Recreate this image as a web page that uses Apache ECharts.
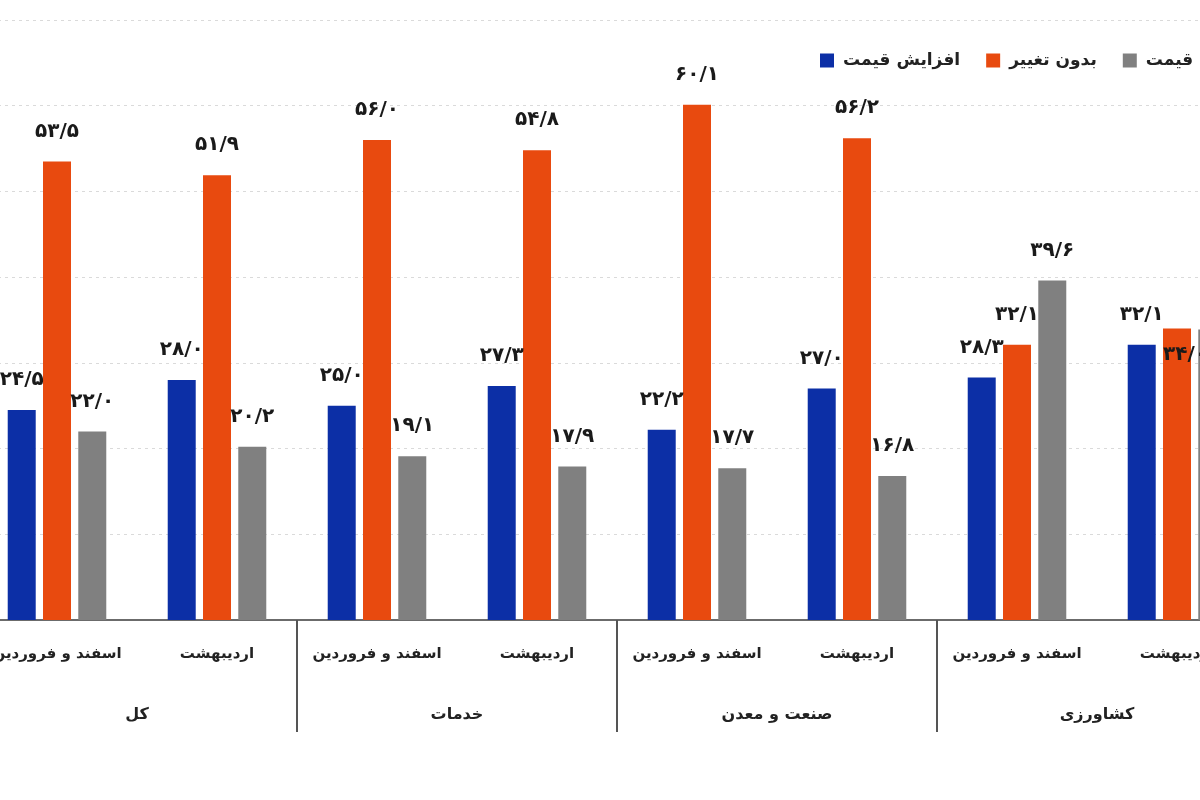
<!DOCTYPE html>
<html>
<head>
    <meta charset="utf-8">
    <title>تغییر قیمت</title>
    <script src="https://cdn.jsdelivr.net/npm/echarts@6/dist/echarts.min.js"></script>
    <style>
        html, body {
            margin: 0;
            padding: 0;
            background: #ffffff;
        }

        #chart {
            width: 1200px;
            height: 800px;
        }
    </style>
</head>
<body>
<div id="chart"></div>
<script>
// دسته‌ها
var months = ['اسفند و فروردین', 'اردیبهشت', 'اسفند و فروردین', 'اردیبهشت',
    'اسفند و فروردین', 'اردیبهشت', 'اسفند و فروردین', 'اردیبهشت'];
var sectors = ['کل', 'خدمات', 'صنعت و معدن', 'کشاورزی'];
var seriesNames = ['افزایش قیمت', 'بدون تغییر', 'کاهش قیمت'];

// مقادیر (درصد)
var increase = [24.5, 28.0, 25.0, 27.3, 22.2, 27.0, 28.3, 32.1];
var unchanged = [53.5, 51.9, 56.0, 54.8, 60.1, 56.2, 32.1, 34.0];
var decrease = [22.0, 20.2, 19.1, 17.9, 17.7, 16.8, 39.6, 33.9];

var faFont = 'DejaVu Sans';

function toFa(v) {
    return v.toFixed(1).replace('.', '/').replace(/\d/g, function (d) {
        return '۰۱۲۳۴۵۶۷۸۹'[d];
    });
}

var barLabel = {
    show: true,
    position: 'top',
    distance: 20,
    fontFamily: faFont,
    fontWeight: 'bold',
    fontSize: 20,
    color: '#1a1a1a',
    formatter: function (p) { return toFa(p.value); }
};

var last = increase.length - 1;

// the last orange label sits inside the bar in the original
var unchangedData = unchanged.map(function (v, i) {
    if (i === last) {
        return {value: v, label: {position: 'insideTop', distance: 16, offset: [8, 0]}};
    }
    return v;
});

// last grey label falls outside the picture
var decreaseData = decrease.map(function (v, i) {
    if (i === last) {
        return {value: v, label: {show: false}};
    }
    return v;
});

var chart = echarts.init(document.getElementById('chart'));

var option = {
    backgroundColor: '#ffffff',
    animation: false,
    color: ['#0c2fa6', '#e84a0f', '#808080'],
    legend: {
        data: seriesNames,
        left: 815,
        top: 47,
        width: 600,
        itemWidth: 14,
        itemHeight: 14,
        itemGap: 26,
        icon: 'rect',
        textStyle: {
            fontFamily: faFont,
            fontWeight: 'bold',
            fontSize: 17,
            color: '#222',
            padding: [0, 0, 0, 4]
        }
    },
    grid: {
        left: -23,
        right: -57,
        top: 20,
        bottom: 180,
        containLabel: false,
        outerBoundsMode: 'none'
    },
    xAxis: [
        {
            type: 'category',
            data: months,
            axisLine: {lineStyle: {color: '#6b6b6b', width: 2}},
            axisTick: {show: false},
            axisLabel: {
                interval: 0,
                margin: 27,
                fontFamily: faFont,
                fontWeight: 'bold',
                fontSize: 15,
                color: '#222'
            }
        },
        {
            type: 'category',
            data: sectors,
            position: 'bottom',
            axisLine: {show: false},
            axisTick: {
                show: true,
                interval: 0,
                length: 112,
                lineStyle: {color: '#555', width: 2}
            },
            axisLabel: {
                interval: 0,
                margin: 87,
                fontFamily: faFont,
                fontWeight: 'bold',
                fontSize: 16,
                color: '#222'
            }
        }
    ],
    yAxis: {
        type: 'value',
        min: 0,
        max: 70,
        interval: 10,
        axisLine: {show: false},
        axisTick: {show: false},
        axisLabel: {show: false},
        splitLine: {lineStyle: {color: '#dadada', type: [3, 4], width: 1}}
    },
    series: [
        {
            name: seriesNames[0],
            type: 'bar',
            barWidth: 28,
            barGap: '26%',
            label: barLabel,
            data: increase
        },
        {
            name: seriesNames[1],
            type: 'bar',
            barWidth: 28,
            barGap: '26%',
            label: barLabel,
            data: unchangedData
        },
        {
            name: seriesNames[2],
            type: 'bar',
            barWidth: 28,
            barGap: '26%',
            label: barLabel,
            data: decreaseData
        }
    ]
};

chart.setOption(option);
</script>
</body>
</html>
